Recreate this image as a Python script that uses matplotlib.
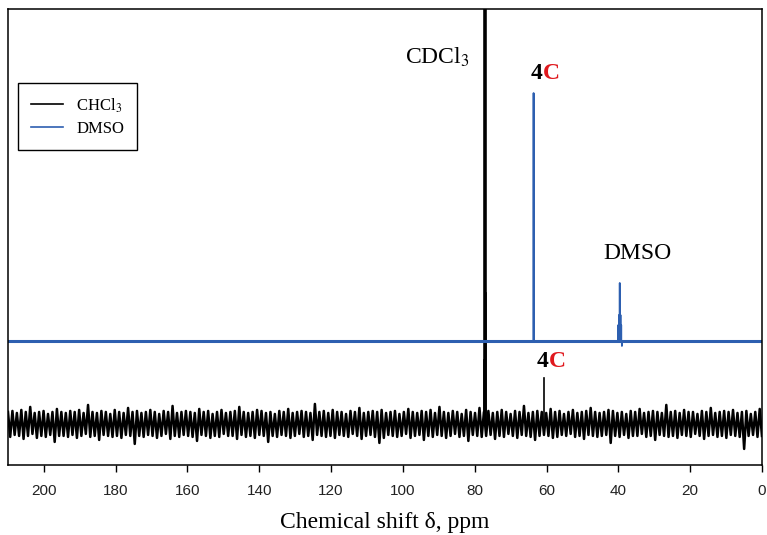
import matplotlib
matplotlib.use('Agg')
import matplotlib.pyplot as plt
import numpy as np

plt.rcParams['mathtext.fontset'] = 'stix'
SERIF = 'Liberation Serif'
SANS = 'Liberation Sans'

# black trace (CDCl3 run): noise excursions above / below the baseline
black_base = 41
noise_up = [
    12, 13, 11, 14, 12, 17, 11, 12, 13, 10, 12, 15, 12, 11, 13, 12, 14, 11, 19, 12,
    11, 13, 12, 10, 14, 12, 11, 16, 12, 13, 11, 12, 14, 12, 10, 13, 12, 18, 11, 12,
    13, 12, 11, 15, 12, 13, 10, 12, 14, 11, 12, 13, 17, 12, 11, 12, 14, 13, 11, 12,
    10, 13, 12, 15, 11, 12, 13, 12, 11, 20, 12, 13, 11, 14, 12, 12, 10, 13, 12, 16,
    11, 12, 13, 12, 14, 11, 12, 13, 10, 12, 15, 12, 11, 13, 12, 14, 11, 17, 12, 11,
    13, 12, 10, 14, 12, 11, 16, 12, 13, 11, 12, 14, 12, 10, 13, 12, 18, 11, 12, 13,
    12, 11, 15, 12, 13, 10, 12, 14, 11, 12, 13, 16, 12, 11, 12, 14, 13, 11, 12, 10,
    13, 12, 15, 11, 12, 13, 12, 11, 19, 12, 13, 11, 14, 12, 12, 10, 13, 12, 16, 11,
    12, 13, 12, 14, 11, 12, 13, 10, 12, 15,
]
noise_dn = [
    13, 11, 12, 15, 12, 10, 14, 12, 13, 11, 18, 12, 12, 13, 11, 14, 12, 10, 13, 12,
    16, 11, 12, 13, 12, 14, 11, 12, 20, 12, 13, 11, 12, 14, 12, 10, 15, 12, 13, 11,
    12, 13, 17, 11, 12, 14, 12, 13, 10, 12, 12, 15, 11, 13, 12, 14, 11, 12, 18, 12,
    13, 11, 12, 14, 12, 10, 13, 12, 16, 11, 12, 13, 12, 14, 11, 12, 13, 10, 12, 15,
    12, 11, 13, 19, 14, 11, 12, 13, 12, 10, 14, 12, 11, 16, 12, 13, 11, 12, 14, 12,
    10, 13, 12, 17, 11, 12, 13, 12, 11, 15, 12, 13, 10, 12, 14, 11, 12, 13, 16, 12,
    11, 12, 14, 13, 11, 12, 10, 13, 12, 15, 11, 12, 13, 12, 11, 19, 12, 13, 11, 14,
    12, 12, 10, 13, 12, 16, 11, 12, 13, 12, 14, 11, 12, 13, 10, 12, 15, 12, 11, 13,
    12, 14, 11, 12, 13, 25, 12, 11, 13, 12,
]
black_peak_ppm = [77.5, 77.2, 76.8, 60.6]
black_peak_top = [105, 600, 172, 87]
black_peak_lw = [1.2, 2.6, 1.2, 1.2]

# blue trace (DMSO run)
blue_base = 124
blue_peak_ppm = [63.6, 40.0, 39.8, 39.6, 39.4, 39.2, 39.0]
blue_peak_top = [372, 140, 150, 182, 150, 140, 119]

xticks = [200, 180, 160, 140, 120, 100, 80, 60, 40, 20, 0]

fig = plt.figure(figsize=(7.67, 5.35), dpi=100)
ax = fig.add_axes([0.0104, 0.131, 0.983, 0.852])

# black spectrum
bx = np.linspace(210, 0, len(noise_up) + len(noise_dn))
by = np.empty(len(bx))
by[0::2] = black_base + np.array(noise_up)
by[1::2] = black_base - np.array(noise_dn)
ax.plot(bx, by, color='black', lw=1.8)
for p, t, w in zip(black_peak_ppm, black_peak_top, black_peak_lw):
    ax.plot([p, p], [black_base, t], color='black', lw=w)

# blue spectrum
xs, ys = [210], [blue_base]
for p, t in zip(blue_peak_ppm, blue_peak_top):
    xs += [p + 0.03, p, p - 0.03]
    ys += [blue_base, t, blue_base]
xs.append(0)
ys.append(blue_base)
ax.plot(xs, ys, color='#2d5fb0', lw=1.3)
h_blue, = ax.plot([210, 0], [blue_base, blue_base], color='#2d5fb0', lw=2.2)

ax.set_xlim(210, 0)
ax.set_ylim(0, 456)
ax.set_yticks([])
ax.set_xticks(xticks)
ax.set_xticklabels([str(t) for t in xticks], family=SANS, fontsize=11, color='#222222')
ax.tick_params(axis='x', direction='out', length=5, width=1, pad=9)
for s in ax.spines.values():
    s.set_linewidth(1.1)
ax.set_xlabel('Chemical shift δ, ppm', family=SERIF, fontsize=17, labelpad=10)

# annotations
ax.text(90.4, 408, 'CDCl$_3$', family=SERIF, fontsize=17, ha='center', va='center')
ax.text(34.6, 211, 'DMSO', family=SERIF, fontsize=17, ha='center', va='center')
for xp, yp in [(61.1, 392), (59.4, 103)]:
    ax.text(xp, yp, '4', family=SERIF, fontsize=17, fontweight='bold',
            ha='right', va='center', color='black')
    ax.text(xp, yp, 'C', family=SERIF, fontsize=17, fontweight='bold',
            ha='left', va='center', color='#e0191e')

h_black_leg = plt.Line2D([], [], color='black', lw=1.2)
leg = ax.legend([h_black_leg, h_blue], ['CHCl$_3$', 'DMSO'], loc='upper left',
                bbox_to_anchor=(0.013, 0.838), borderaxespad=0, fancybox=False,
                edgecolor='black', framealpha=1, handlelength=1.9,
                prop={'family': SERIF, 'size': 12}, borderpad=0.8, labelspacing=0.35)
leg.get_frame().set_linewidth(1.0)
for line in leg.get_lines():
    line.set_linewidth(1.2)

fig.savefig('out.png', dpi=100)
